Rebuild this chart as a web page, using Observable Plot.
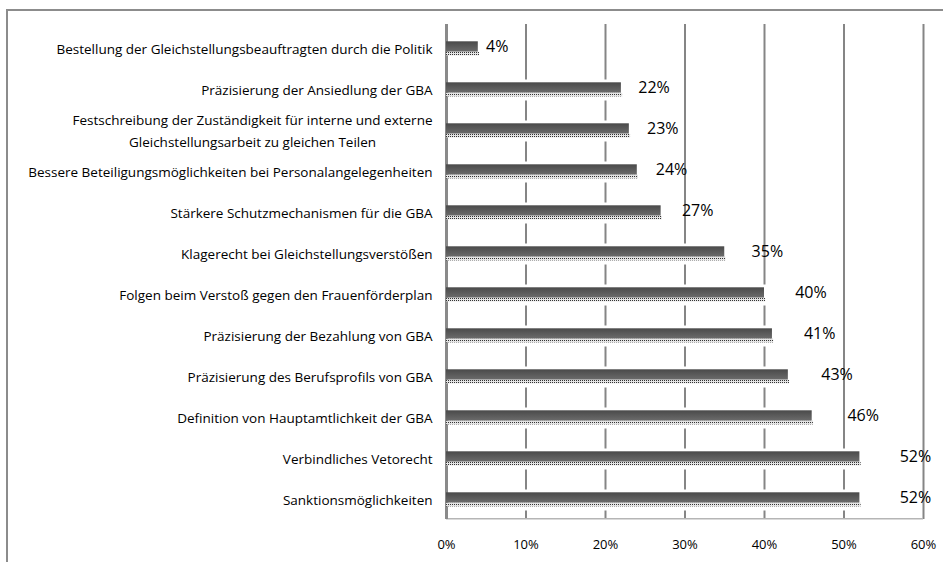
<!DOCTYPE html>
<html>
<head>
<meta charset="utf-8">
<script src="https://cdn.jsdelivr.net/npm/d3@7"></script>
<script src="https://cdn.jsdelivr.net/npm/@observablehq/plot@0.6"></script>
<style>
  html, body { margin:0; padding:0; background:#fff; overflow:hidden; width:943px; height:562px; }
  #border { position:absolute; left:6px; top:9px; width:1000px; height:700px; border:2px solid #8c8c8c; box-sizing:border-box; }
  #chart { position:absolute; left:0; top:0; }
</style>
</head>
<body>
<div id="border"></div>
<div id="chart"></div>
<script>
const categories = [
  "Bestellung der Gleichstellungsbeauftragten durch die Politik",
  "Präzisierung der Ansiedlung der GBA",
  "Festschreibung der Zuständigkeit für interne und externe\nGleichstellungsarbeit zu gleichen Teilen",
  "Bessere Beteiligungsmöglichkeiten bei Personalangelegenheiten",
  "Stärkere Schutzmechanismen für die GBA",
  "Klagerecht bei Gleichstellungsverstößen",
  "Folgen beim Verstoß gegen den Frauenförderplan",
  "Präzisierung der Bezahlung von GBA",
  "Präzisierung des Berufsprofils von GBA",
  "Definition von Hauptamtlichkeit der GBA",
  "Verbindliches Vetorecht",
  "Sanktionsmöglichkeiten"
];
const values = [4, 22, 23, 24, 27, 35, 40, 41, 43, 46, 52, 52];
const xTicks = [0, 10, 20, 30, 40, 50, 60];

const data = categories.map((c, i) => ({category: c, value: values[i]}));
const H = 562, MT = 24, MB = 43;
const band = (H - MT - MB) / categories.length;

const plot = Plot.plot({
  width: 943,
  height: H,
  marginLeft: 446,
  marginRight: 20,
  marginTop: MT,
  marginBottom: MB,
  style: {fontFamily: "'Open Sans', sans-serif", color: "#000", background: "transparent"},
  x: {domain: [0, 60], label: null},
  y: {domain: categories, padding: 0, axis: null},
  marks: [
    Plot.ruleX(xTicks.slice(1), {stroke: "#858585", strokeWidth: 2}),
    Plot.ruleY([categories[categories.length - 1]], {dy: band / 2, stroke: "#b5b5b5", strokeWidth: 1.5}),
    Plot.barX(data, {x1: 0, x2: d => d.value + 0.4, y: "category", fill: "white", insetTop: 12.5, insetBottom: 7.5}),
    Plot.ruleX([0], {stroke: "#8a8a8a", strokeWidth: 3}),
    Plot.barX(data, {x1: 0, x2: "value", y: "category", fill: "url(#barGrad)", insetTop: 15.3, insetBottom: 15.4}),
    Plot.barX(data, {x1: 0, x2: d => d.value + 0.15, y: "category", fill: "url(#dots)", insetTop: 25.9, insetBottom: 11.6}),
    Plot.text(data, {x: 0, y: "category", text: "category", textAnchor: "end", dx: -14, fontSize: 13.5, lineHeight: 1.63, fill: "#000"}),
    Plot.text(data, {x: d => d.value * 1.096 + 2, y: "category", text: d => d.value + "%", fontSize: 16, textAnchor: "middle", fill: "#000"}),
    Plot.axisX({ticks: xTicks, tickFormat: d => d + "%", tickSize: 0, tickPadding: 20, fontSize: 13, label: null})
  ]
});

const svg = d3.select(plot);
const defs = svg.insert("defs", ":first-child");
const grad = defs.append("linearGradient").attr("id", "barGrad").attr("x1", 0).attr("y1", 0).attr("x2", 0).attr("y2", 1);
grad.append("stop").attr("offset", "0%").attr("stop-color", "#4a4a4a");
grad.append("stop").attr("offset", "100%").attr("stop-color", "#6b6b6b");
const pat = defs.append("pattern").attr("id", "dots").attr("width", 2).attr("height", 2).attr("patternUnits", "userSpaceOnUse");
pat.append("rect").attr("width", 2).attr("height", 2).attr("fill", "#e4e4e4");
pat.append("rect").attr("width", 1).attr("height", 1).attr("fill", "#333");

document.getElementById("chart").appendChild(plot);

// center multi-line category labels under their right edge, as in the original
svg.selectAll("text").each(function() {
  const tspans = this.querySelectorAll("tspan");
  if (tspans.length > 1) {
    const widths = Array.from(tspans, t => t.getComputedTextLength());
    const maxW = Math.max(...widths);
    const x = parseFloat(tspans[0].getAttribute("x") || 0);
    this.setAttribute("text-anchor", "middle");
    tspans.forEach(t => t.setAttribute("x", x - maxW / 2));
  }
});
</script>
</body>
</html>
